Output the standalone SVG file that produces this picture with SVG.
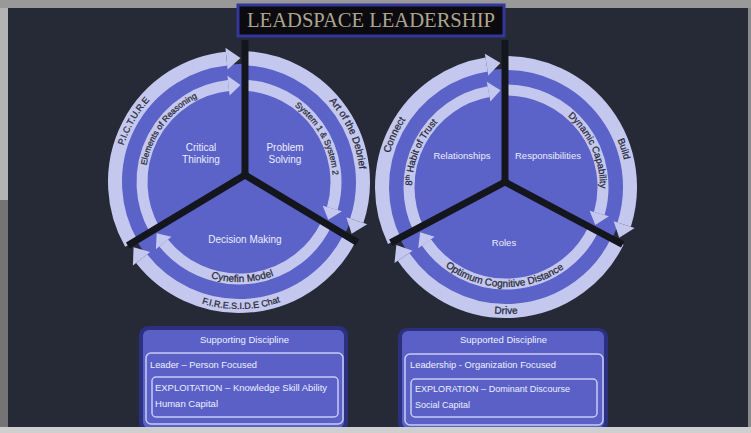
<svg xmlns="http://www.w3.org/2000/svg" width="751" height="433" viewBox="0 0 751 433">
<style>
.wedge{fill:#5b62c8}
.bo{fill:none;stroke:#c5c8ee;stroke-width:14}
.bi{fill:none;stroke:#c5c8ee;stroke-width:11}
.hd{fill:#c5c8ee}
.gap{fill:none;stroke:#14161d;stroke-width:7}
.lbl{font-family:"Liberation Sans",Arial,sans-serif;fill:#eceefc;text-anchor:middle}
.bt{font-family:"Liberation Sans",Arial,sans-serif;fill:#262938;stroke:#262938;stroke-width:0.25;text-anchor:middle}
.bx{font-family:"Liberation Sans",Arial,sans-serif;fill:#eef0ff;font-size:9px}
.ib{fill:none;stroke:#c8cbf3;stroke-width:1.5}
</style>
<defs>
<path id="tp1" d="M119.84 203.01 A121 121 0 0 1 197.62 68.30"/>
<path id="tp2" d="M147.41 203.15 A94 94 0 0 1 234.08 88.13"/>
<path id="tp3" d="M292.04 73.25 A121 121 0 0 1 355.31 215.35"/>
<path id="tp4" d="M256.94 89.73 A94 94 0 0 1 326.76 215.69"/>
<path id="tp5" d="M177.43 260.80 A100 100 0 0 0 305.91 256.31"/>
<path id="tp6" d="M167.98 287.29 A127 127 0 0 0 313.65 284.75"/>
<path id="tp7" d="M386.84 208.01 A121 121 0 0 1 445.5 82.21"/>
<path id="tp8" d="M423.00 231.13 A94 94 0 0 1 476.95 97.60"/>
<path id="tp9" d="M531.91 96.64 A94 94 0 0 1 590.49 228.21"/>
<path id="tp10" d="M586.96 97.08 A121 121 0 0 1 624.36 212.16"/>
<path id="tp11" d="M428.28 249.93 A100 100 0 0 0 581.47 252.61"/>
<path id="tp12" d="M442.5 296.99 A127 127 0 0 0 569.5 296.99"/>
</defs>

<!-- frame -->
<rect width="751" height="433" fill="#999999"/>
<rect x="0" y="8" width="8" height="192" fill="#b3b3b3"/>
<rect x="0" y="200" width="8" height="233" fill="#747474"/>
<rect x="8" y="8" width="740" height="419" fill="#262a36"/>

<!-- title -->
<g id="title">
<rect x="238" y="5" width="266" height="31" fill="#0b0b0f" stroke="#33379a" stroke-width="3"/>
<text x="247" y="27" font-family="'Liberation Serif','Times New Roman',serif" font-size="21" fill="#aea58f" textLength="248" lengthAdjust="spacingAndGlyphs">LEADSPACE LEADERSHIP</text>
</g>

<!-- left cycle nodes -->
<g id="critical-thinking">
<path class="wedge" d="M245 175 L136.38 240.26 A118 118 0 0 1 245 64.15 Z"/>
<text class="lbl" x="201" y="151" font-size="10">Critical</text>
<text class="lbl" x="201" y="163" font-size="10">Thinking</text>
</g>
<g id="problem-solving">
<path class="wedge" d="M245 175 L245 64.15 A118 118 0 0 1 344.53 234.80 Z"/>
<text class="lbl" x="285" y="151" font-size="10">Problem</text>
<text class="lbl" x="285" y="163" font-size="10">Solving</text>
</g>
<g id="decision-making">
<path class="wedge" d="M245 175 L344.53 234.80 A118 118 0 0 1 136.38 240.26 Z"/>
<text class="lbl" x="245" y="243" font-size="10">Decision Making</text>
</g>

<!-- right cycle nodes -->
<g id="relationships">
<path class="wedge" d="M505 182 L399.62 238.04 A118 118 0 0 1 505 69 Z"/>
<text class="lbl" x="462" y="159" font-size="9.5">Relationships</text>
</g>
<g id="responsibilities">
<path class="wedge" d="M505 182 L505 69 A118 118 0 0 1 611.97 238.88 Z"/>
<text class="lbl" x="548" y="159" font-size="9.5">Responsibilities</text>
</g>
<g id="roles">
<path class="wedge" d="M505 182 L611.97 238.88 A118 118 0 0 1 399.62 238.04 Z"/>
<text class="lbl" x="504" y="246" font-size="9.5">Roles</text>
</g>

<!-- connectors: cycle arrows -->
<g id="connectors">
<path class="bo" d="M131.24 243.37 A124 124 0 0 1 226.51 58.63"/>
<polygon class="hd" points="227.62,69.58 225.41,47.69 240.49,58.01"/>
<path class="bo" d="M244.99 58.15 A124 124 0 0 1 356.77 220.81"/>
<polygon class="hd" points="346.32,217.37 367.22,224.25 351.65,233.83"/>
<path class="bo" d="M349.69 237.89 A124 124 0 0 1 141.55 258.68"/>
<polygon class="hd" points="150.20,251.88 132.91,265.49 133.56,247.25"/>
<path class="bi" d="M154.39 229.44 A97 97 0 0 1 228.52 85.57"/>
<polygon class="hd" points="229.60,95.51 227.44,75.63 240.51,85.01"/>
<path class="bi" d="M245.01 85.19 A97 97 0 0 1 332.30 208.52"/>
<polygon class="hd" points="322.68,205.79 341.92,211.26 328.31,219.83"/>
<path class="bi" d="M326.46 223.94 A97 97 0 0 1 163.63 243.07"/>
<polygon class="hd" points="171.40,236.77 155.87,249.36 156.69,233.32"/>

<path class="bo" d="M394.31 240.87 A124 124 0 0 1 486.58 64.53"/>
<polygon class="hd" points="488.30,75.39 484.86,53.67 500.50,63.12"/>
<path class="bo" d="M505.00 63.00 A124 124 0 0 1 624.18 224.56"/>
<polygon class="hd" points="613.69,221.22 634.66,227.89 619.19,237.63"/>
<path class="bo" d="M617.28 241.71 A124 124 0 0 1 403.56 256.88"/>
<polygon class="hd" points="412.65,250.68 394.48,263.08 396.35,244.90"/>
<path class="bi" d="M418.16 228.16 A97 97 0 0 1 488.59 91.58"/>
<polygon class="hd" points="490.38,101.41 486.79,81.74 500.50,90.16"/>
<path class="bi" d="M505.00 90.00 A97 97 0 0 1 599.28 213.61"/>
<polygon class="hd" points="589.66,210.86 608.90,216.35 595.28,224.91"/>
<path class="bi" d="M593.43 229.02 A97 97 0 0 1 426.41 242.45"/>
<polygon class="hd" points="434.62,236.73 418.21,248.17 420.17,232.20"/>

<text class="bt" font-size="9"><textPath href="#tp1" startOffset="50%">P.I.C.T.U.R.E</textPath></text>
<text class="bt" font-size="8.5"><textPath href="#tp2" startOffset="50%">Elements of Reasoning</textPath></text>
<text class="bt" font-size="10"><textPath href="#tp3" startOffset="50%">Art of the Debrief</textPath></text>
<text class="bt" font-size="8.5"><textPath href="#tp4" startOffset="50%">System 1 &amp; System 2</textPath></text>
<text class="bt" font-size="10"><textPath href="#tp5" startOffset="50%">Cynefin Model</textPath></text>
<text class="bt" font-size="9"><textPath href="#tp6" startOffset="50%">F.I.R.E.S.I.D.E Chat</textPath></text>
<text class="bt" font-size="10"><textPath href="#tp7" startOffset="50%">Connect</textPath></text>
<text class="bt" font-size="9.5"><textPath href="#tp8" startOffset="50%">8<tspan font-size="6" dy="-3">th</tspan><tspan dy="3"> Habit of Trust</tspan></textPath></text>
<text class="bt" font-size="9.5"><textPath href="#tp9" startOffset="50%">Dynamic Capability</textPath></text>
<text class="bt" font-size="9.5"><textPath href="#tp10" startOffset="50%">Build</textPath></text>
<text class="bt" font-size="10"><textPath href="#tp11" startOffset="50%">Optimum Cognitive Distance</textPath></text>
<text class="bt" font-size="10"><textPath href="#tp12" startOffset="50%">Drive</textPath></text>
</g>

<!-- dividers -->
<g id="dividers">
<path class="gap" d="M245 175 L245 40 M245 175 L357.4 242.5 M245 175 L127.8 245.4"/>
<circle cx="245" cy="175" r="4" fill="#14161d"/>
<path class="gap" d="M505 182 L505 40 M505 182 L622.6 244.5 M505 182 L390.8 242.7"/>
<circle cx="505" cy="182" r="4" fill="#14161d"/>
</g>

<!-- bottom boxes -->
<g id="supporting-discipline">
<rect x="139" y="326" width="209" height="106" rx="9" fill="#2c3080"/>
<rect x="143" y="330" width="201" height="98" rx="6" fill="#5a60c6"/>
<text class="bx" x="244.5" y="342.5" text-anchor="middle" textLength="89" lengthAdjust="spacingAndGlyphs">Supporting Discipline</text>
<rect class="ib" x="146" y="353" width="197" height="71" rx="5"/>
<text class="bx" x="150" y="367.5" textLength="107" lengthAdjust="spacingAndGlyphs">Leader – Person Focused</text>
<rect class="ib" x="152" y="377" width="186" height="40" rx="4"/>
<text class="bx" x="155" y="391" textLength="172" lengthAdjust="spacingAndGlyphs">EXPLOITATION – Knowledge Skill  Ability</text>
<text class="bx" x="155" y="406.5" textLength="63" lengthAdjust="spacingAndGlyphs">Human Capital</text>
</g>
<g id="supported-discipline">
<rect x="398" y="328" width="210" height="104" rx="9" fill="#2c3080"/>
<rect x="402" y="331" width="202" height="97" rx="6" fill="#5a60c6"/>
<text class="bx" x="503.5" y="343" text-anchor="middle" textLength="87" lengthAdjust="spacingAndGlyphs">Supported Discipline</text>
<rect class="ib" x="405" y="354" width="198" height="71" rx="5"/>
<text class="bx" x="410" y="368" textLength="146" lengthAdjust="spacingAndGlyphs">Leadership - Organization Focused</text>
<rect class="ib" x="411" y="379" width="186" height="38" rx="4"/>
<text class="bx" x="415" y="392" textLength="155" lengthAdjust="spacingAndGlyphs">EXPLORATION – Dominant Discourse</text>
<text class="bx" x="415" y="407.5" textLength="55" lengthAdjust="spacingAndGlyphs">Social Capital</text>
</g>

<rect x="0" y="427" width="751" height="6" fill="#cfcfcf"/>
<rect x="748" y="8" width="3" height="419" fill="#8a8a8a"/>
</svg>
